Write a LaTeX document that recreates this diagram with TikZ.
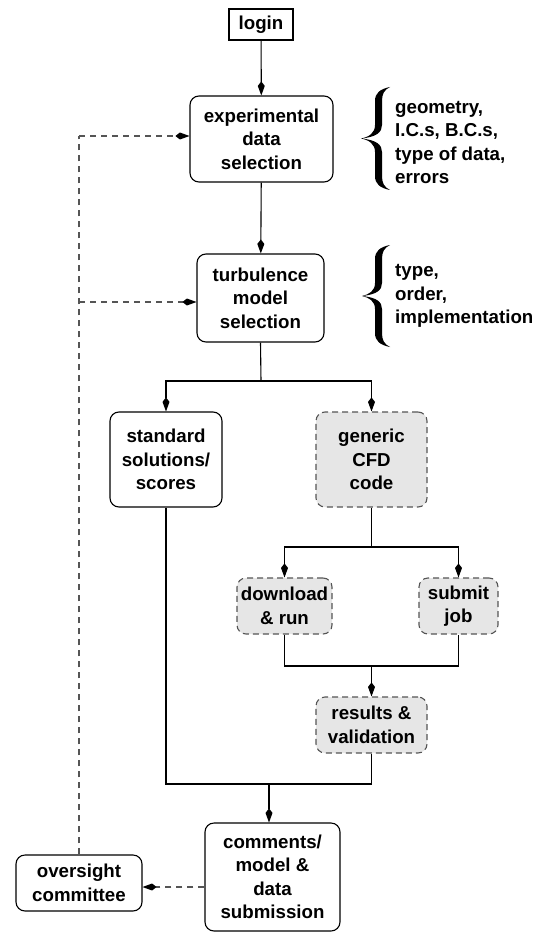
\documentclass[tikz,border=0pt]{standalone}
\usepackage{fontspec}
\setmainfont{Liberation Sans}
\usetikzlibrary{arrows.meta,calc}
\definecolor{boxgray}{HTML}{E6E6E6}
\definecolor{dashgray}{HTML}{555555}
\tikzset{
  lbl/.style={font=\bfseries\fontsize{18.7}{23.5}\selectfont, align=center, inner sep=0pt},
  plainbox/.style={lbl, draw, line width=1.1pt},
  rbox/.style={lbl, draw, line width=1.1pt, rounded corners=9pt},
  gbox/.style={lbl, draw=dashgray, fill=boxgray, line width=1.1pt, rounded corners=9pt, dash pattern=on 6pt off 4pt},
  conn/.style={line width=1.1pt, -{Kite[length=14pt,width=7pt,inset=4.5pt]}},
  seg/.style={line width=1.1pt},
  dconn/.style={line width=1.1pt, draw=dashgray, dash pattern=on 6pt off 5pt, -{Kite[length=14pt,width=7pt,inset=4.5pt,color=black,fill=black]}},
  dseg/.style={line width=1.1pt, draw=dashgray, dash pattern=on 6pt off 5pt},
  bracetext/.style={font=\bfseries\fontsize{18.7}{23.3}\selectfont, align=left, inner sep=0pt, anchor=west},
}
\begin{document}
\begin{tikzpicture}[x=1pt,y=-1pt]
\useasboundingbox (0,0) rectangle (547,933);

\node[plainbox, minimum width=64pt, minimum height=31pt] (login) at (261,24.5) {login};
\node[rbox, minimum width=143pt, minimum height=86pt] (exp) at (261.5,139) {experimental\\data\\selection};
\node[rbox, minimum width=127pt, minimum height=88pt] (turb) at (260.5,298) {turbulence\\model\\selection};
\node[rbox, minimum width=112pt, minimum height=95pt] (std) at (166,459.5) {standard\\solutions/\\scores};
\node[gbox, minimum width=111pt, minimum height=95pt] (gen) at (371.5,459.5) {generic\\CFD\\code};
\node[gbox, minimum width=95pt, minimum height=56pt] (dl) at (284.5,606) {download\\\& run};
\node[gbox, minimum width=79pt, minimum height=56pt] (sub) at (458.5,606) {submit\\job};
\node[gbox, minimum width=111pt, minimum height=56pt] (res) at (371.5,725) {results \&\\validation};
\node[rbox, minimum width=135pt, minimum height=108pt] (com) at (272.5,877) {comments/\\model \&\\data\\submission};
\node[rbox, minimum width=126pt, minimum height=56pt] (ovs) at (79,883) {oversight\\committee};

% braces
\fill (390,87)
  .. controls (380,89) and (375,93) .. (375,101)
  -- (375,125)
  .. controls (375,133) and (369,137) .. (361,138.5)
  .. controls (369,140) and (375,144) .. (375,152)
  -- (375,176)
  .. controls (375,184) and (380,188) .. (390,190)
  .. controls (384,187) and (382,183) .. (382,176)
  -- (382,152)
  .. controls (382,145) and (377,140) .. (361,138.5)
  .. controls (377,137) and (382,132) .. (382,125)
  -- (382,101)
  .. controls (382,94) and (384,90) .. (390,87) -- cycle;
\fill (390,245)
  .. controls (380,247) and (375,251) .. (375,259)
  -- (375,283)
  .. controls (375,291) and (369,294.5) .. (362,296)
  .. controls (369,297.5) and (375,301) .. (375,309)
  -- (375,333)
  .. controls (375,341) and (380,345) .. (390,347)
  .. controls (384,344) and (382,340) .. (382,333)
  -- (382,309)
  .. controls (382,302) and (377,297.5) .. (362,296)
  .. controls (377,294.5) and (382,290) .. (382,283)
  -- (382,259)
  .. controls (382,252) and (384,248) .. (390,245) -- cycle;
\node[bracetext] (t1) at (395,142.5) {geometry,\\I.C.s, B.C.s,\\type of data,\\errors};
\node[bracetext] (t2) at (395,296) {type,\\order,\\implementation};

% connectors
\draw[conn] (login) -- (exp);
\draw[conn] (exp) -- (turb);
\coordinate (b1) at (261,381);
\draw[seg] (turb.south) -- (b1);
\draw[conn] (b1) -| (std.north);
\draw[conn] (b1) -| (gen.north);
\coordinate (b2) at (371.5,547);
\draw[seg] (gen.south) -- (b2);
\draw[conn] (b2) -| (dl.north);
\draw[conn] (b2) -| (sub.north);
\coordinate (j2) at (371.5,666);
\draw[seg] (dl.south) |- (j2) -| (sub.south);
\draw[conn] (j2) -- (res.north);
\coordinate (j3) at (269,784);
\draw[seg] (std.south) |- (j3) -| (res.south);
\draw[conn] (j3) -- (j3 |- com.north);

% dashed feedback
\coordinate (cw) at ([yshift=-10pt]com.west);
\draw[dconn] (cw) -- (cw -| ovs.east);
\coordinate (ea) at ([yshift=3pt]exp.west);
\coordinate (ta) at ([yshift=-4pt]turb.west);
\draw[dseg] (ovs.north) -- (ovs.north |- ea);
\draw[dconn] (ovs.north |- ea) -- (ea);
\draw[dconn] (ovs.north |- ta) -- (ta);
\end{tikzpicture}
\end{document}
